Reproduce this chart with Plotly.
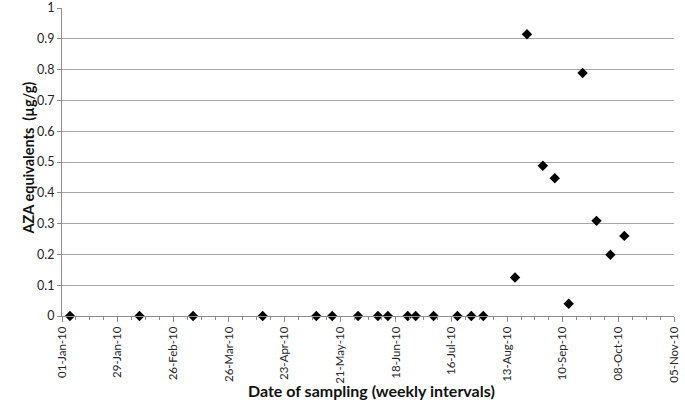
import plotly.graph_objects as go
from datetime import date, timedelta

sample_dates = ["2010-01-05", "2010-02-09", "2010-03-08", "2010-04-12", "2010-05-09",
                "2010-05-17", "2010-05-30", "2010-06-09", "2010-06-14", "2010-06-24",
                "2010-06-28", "2010-07-07", "2010-07-19", "2010-07-26", "2010-08-01",
                "2010-08-17", "2010-08-23", "2010-08-31", "2010-09-06", "2010-09-13",
                "2010-09-20", "2010-09-27", "2010-10-04", "2010-10-11"]
aza_values = [0, 0, 0, 0, 0,
              0, 0, 0, 0, 0,
              0, 0, 0, 0, 0,
              0.125, 0.915, 0.488, 0.447, 0.04,
              0.789, 0.309, 0.199, 0.26]

tick_dates = [(date(2010, 1, 1) + timedelta(days=28 * i)).isoformat() for i in range(12)]
tick_labels = [(date(2010, 1, 1) + timedelta(days=28 * i)).strftime("%d-%b-%y") for i in range(12)]
y_ticks = [round(0.1 * i, 1) for i in range(11)]

FONT = "Lato"
fig = go.Figure()
fig.add_trace(go.Scatter(
    x=sample_dates, y=aza_values, mode="markers",
    marker=dict(symbol="diamond", size=8, color="black"),
    cliponaxis=False, showlegend=False, hoverinfo="skip"))

fig.update_layout(
    width=685, height=416,
    margin=dict(l=62, r=11, t=8, b=100, autoexpand=False),
    paper_bgcolor="white", plot_bgcolor="white",
    font=dict(family=FONT, color="#222"),
    xaxis=dict(
        type="date", range=["2010-01-01", "2010-11-05"], automargin=False,
        tickmode="array", tickvals=tick_dates, ticktext=tick_labels,
        tickangle=-90, tickfont=dict(size=11.5, family=FONT, color="#262626"),
        showgrid=False, showline=True, linecolor="#8c8c8c", linewidth=1,
        ticks="outside", ticklen=5, tickcolor="#8c8c8c",
        minor=dict(dtick=7 * 86400000, tick0="2010-01-01", ticks="outside",
                   ticklen=3, tickcolor="#8c8c8c", showgrid=False),
        zeroline=False,
    ),
    yaxis=dict(
        range=[0, 1], tickmode="array", tickvals=y_ticks, automargin=False,
        ticktext=[f"{v:g}" for v in y_ticks],
        tickfont=dict(size=12.5, family=FONT, color="#262626"),
        showgrid=True, gridcolor="#a6a6a6", gridwidth=1,
        showline=True, linecolor="#8c8c8c", linewidth=1,
        ticks="outside", ticklen=4, tickcolor="#8c8c8c",
        zeroline=False,
    ),
    annotations=[
        dict(text="<b>Date of sampling (weekly intervals)</b>", x=371, y=402,
             xref="paper", yref="paper", showarrow=False,
             font=dict(size=16, family=FONT, color="#111")),
        dict(text="<b>AZA equivalents  (µg/g)</b>", x=17, y=158,
             xref="paper", yref="paper", showarrow=False, textangle=-90,
             font=dict(size=14.5, family=FONT, color="#111")),
    ],
)
# convert pixel anchors for the titles into paper coordinates
pw, ph = 685 - 62 - 11, 416 - 8 - 100
for a in fig.layout.annotations:
    a.x = (a.x - 62) / pw
    a.y = (416 - 100 - a.y) / ph

fig.write_html("out.html", config={"displayModeBar": False})
# remove the browser's default page margin so the figure sits at (0, 0)
with open("out.html", encoding="utf-8") as f:
    html = f.read()
html = html.replace("<body>", '<body style="margin:0;padding:0">', 1)
with open("out.html", "w", encoding="utf-8") as f:
    f.write(html)
